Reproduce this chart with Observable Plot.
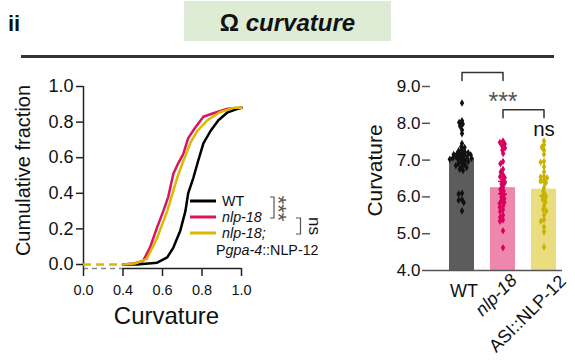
<!DOCTYPE html>
<html><head><meta charset="utf-8">
<script src="https://cdn.jsdelivr.net/npm/d3@7"></script>
<script src="https://cdn.jsdelivr.net/npm/@observablehq/plot@0.6"></script>
<style>
html,body{margin:0;padding:0;background:#fff;}
body{width:575px;height:364px;position:relative;overflow:hidden;font-family:"Liberation Sans",Arial,sans-serif;color:#111;}
.abs{position:absolute;}
svg{overflow:visible;}
</style></head><body>
<div class="abs" style="left:8px;top:11px;font-size:22px;font-weight:bold;line-height:26px;">ii</div>
<div class="abs" style="left:184px;top:1px;width:207px;height:40px;background:#deecd5;"></div>
<div class="abs" style="left:184px;top:3px;width:207px;height:40px;line-height:40px;text-align:center;font-size:24px;font-weight:bold;">Ω <i>curvature</i></div>
<div class="abs" style="left:21px;top:55px;width:533px;height:2.5px;background:#333;"></div>
<div id="left" class="abs" style="left:0;top:60px;"></div>
<div id="rightBars" class="abs" style="left:340px;top:60px;"></div>
<div id="rightAxes" class="abs" style="left:340px;top:60px;"></div>
<svg id="legend" class="abs" style="left:0;top:0;" width="575" height="364"></svg>
<script>
// ---------- data: cumulative distributions (left panel) ----------
const cdfGroups = ["nlp-18", "WT", "nlp-18; Pgpa-4::NLP-12"];
const cdfColors = ["#d8145c", "#000000", "#dcb900"];
const nlpCurv = [0.40, 0.45, 0.502, 0.537, 0.573, 0.604, 0.629, 0.655, 0.68, 0.705, 0.73, 0.766, 0.807, 0.857, 0.93, 1.0];
const nlpFrac = [0, 0.005, 0.02, 0.096, 0.21, 0.30, 0.38, 0.51, 0.57, 0.62, 0.71, 0.77, 0.83, 0.85, 0.875, 0.88];
const wtCurv = [0.40, 0.47, 0.573, 0.624, 0.655, 0.69, 0.716, 0.73, 0.757, 0.78, 0.807, 0.843, 0.883, 0.93, 0.98, 1.0];
const wtFrac = [0, 0, 0.01, 0.04, 0.095, 0.19, 0.30, 0.40, 0.49, 0.58, 0.68, 0.75, 0.81, 0.855, 0.875, 0.88];
const resCurv = [0.40, 0.46, 0.52, 0.573, 0.624, 0.675, 0.705, 0.74, 0.776, 0.827, 0.89, 0.96, 1.0];
const resFrac = [0, 0.005, 0.03, 0.15, 0.30, 0.49, 0.58, 0.68, 0.75, 0.81, 0.855, 0.88, 0.88];
const cdfXTicks = [0, 0.4, 0.6, 0.8, 1.0];
const cdfYTicks = [0, 0.2, 0.4, 0.6, 0.8, 1.0];

// ---------- data: bar chart (right panel) ----------
const barCats = ["WT", "nlp-18", "ASI::NLP-12"];
const barMeans = [7.05, 6.25, 6.21];
const barSems = [0.10, 0.17, 0.18];
const barFills = ["#5c5c5c", "#ef87ad", "#e9dd80"];
const dotFills = ["#111111", "#d8005c", "#c8b300"];
const wtDots = [8.55, 8.07, 8.02, 7.98, 7.92, 7.82, 7.72, 7.45, 7.36, 7.34, 7.27, 7.25, 7.22, 7.2, 7.18, 7.17, 7.15, 7.14, 7.12, 7.1, 7.09, 7.08, 7.06, 7.05, 7.03, 7.02, 7.0, 6.98, 6.96, 6.93, 6.9, 6.88, 6.85, 6.82, 6.8, 6.75, 6.72, 6.1, 6.08, 5.93, 5.91, 5.85, 5.62];
const nlpDots = [7.52, 7.48, 7.44, 7.38, 7.33, 7.27, 7.18, 6.96, 6.9, 6.75, 6.68, 6.6, 6.55, 6.52, 6.45, 6.38, 6.35, 6.26, 6.2, 6.16, 6.1, 6.06, 6.0, 5.95, 5.9, 5.85, 5.82, 5.75, 5.72, 5.65, 5.6, 5.5, 5.45, 5.38, 5.34, 5.08, 4.62];
const asiDots = [7.52, 7.42, 7.35, 7.27, 7.16, 6.96, 6.94, 6.82, 6.68, 6.56, 6.54, 6.52, 6.46, 6.44, 6.38, 6.25, 6.16, 6.08, 6.02, 5.98, 5.92, 5.86, 5.75, 5.66, 5.62, 5.5, 5.38, 5.34, 5.18, 5.05, 4.64];
const barYTicks = [4, 5, 6, 7, 8, 9];

const FONT = "Liberation Sans, Arial, sans-serif";

// ---------- left panel ----------
const cdf = [];
[[nlpCurv, nlpFrac], [wtCurv, wtFrac], [resCurv, resFrac]].forEach(([xs, ys], g) =>
  xs.forEach((x, i) => cdf.push({group: cdfGroups[g], curvature: x, fraction: ys[i]})));
const axisBase = -0.0225; // x-axis drawn just below y = 0
// broken axis: 0–0.4 compressed to the width of one 0.2 interval
const breakAxis = v => v <= 0.4 ? v / 2 : v - 0.2;
const unbreakAxis = t => t <= 0.2 ? t * 2 : t + 0.2;
const fmt1 = d3.format(".1f");
const left = Plot.plot({
  width: 340, height: 290,
  marginLeft: 83, marginRight: 99, marginTop: 26, marginBottom: 86,
  style: {fontFamily: FONT, background: "transparent", color: "#111", overflow: "visible"},
  x: {transform: breakAxis, domain: [0, 0.8], axis: null},
  y: {domain: [0, 1], axis: null},
  color: {domain: cdfGroups, range: cdfColors},
  marks: [
    Plot.ruleX([0], {y1: axisBase, y2: 1, stroke: "#222", strokeWidth: 1.5}),
    Plot.ruleY([axisBase], {x1: 0, x2: 0.4, stroke: "#888", strokeWidth: 1.5, strokeDasharray: "5,4"}),
    Plot.ruleY([axisBase], {x1: 0.4, x2: 1, stroke: "#222", strokeWidth: 1.5}),
    Plot.axisY({ticks: cdfYTicks, tickFormat: ".1f", tickSize: 7, tickPadding: 3, fontSize: 18, label: null, stroke: "#222", strokeWidth: 1.5}),
    Plot.axisX({ticks: cdfXTicks.map(breakAxis), tickFormat: t => fmt1(unbreakAxis(t)), tickSize: 8, tickPadding: 8, fontSize: 14.5, label: null, dy: 4, stroke: "#222", strokeWidth: 1.5}),
    Plot.ruleY([0], {x1: 0, x2: 0.4, stroke: cdfColors[2], strokeWidth: 2.5, strokeDasharray: "8,5"}),
    Plot.line(cdf, {x: "curvature", y: "fraction", z: "group", stroke: "group", strokeWidth: 2.5}),
    Plot.text(["Cumulative fraction"], {frameAnchor: "left", textAnchor: "middle", lineAnchor: "middle", dx: -60, dy: -5, rotate: -90, fontSize: 20}),
    Plot.text(["Curvature"], {frameAnchor: "bottom", textAnchor: "middle", lineAnchor: "middle", dx: 4, dy: 52, fontSize: 24})
  ]
});
document.getElementById("left").append(left);

// ---------- right panel ----------
const stats = barCats.map((c, i) => ({group: c, mean: barMeans[i], lo: barMeans[i] - barSems[i], hi: barMeans[i] + barSems[i], fill: barFills[i], dot: dotFills[i]}));
const points = [];
[wtDots, nlpDots, asiDots].forEach((vals, i) => vals.forEach(v => points.push({group: barCats[i], value: v, dot: dotFills[i]})));
const band = {domain: barCats, paddingInner: 0.4, paddingOuter: 0.29, align: 0.73};
const common = {width: 235, height: 304, marginLeft: 90, marginRight: 13, marginTop: 26, marginBottom: 94,
  style: {fontFamily: FONT, background: "transparent", color: "#111", overflow: "visible"}};

const barsPlot = Plot.plot({
  ...common,
  fx: {...band, axis: null},
  y: {domain: [4, 9], axis: null},
  marks: [
    Plot.barY(stats, {fx: "group", y1: 4, y2: "mean", fill: "fill"}),
    Plot.ruleX(stats, {fx: "group", x: null, y1: "lo", y2: "hi", stroke: "dot", strokeWidth: 1.5}),
    Plot.tickY(stats, {fx: "group", y: "lo", stroke: "dot", strokeWidth: 1.5, insetLeft: 8, insetRight: 8}),
    Plot.tickY(stats, {fx: "group", y: "hi", stroke: "dot", strokeWidth: 1.5, insetLeft: 8, insetRight: 8}),
    Plot.dot(points, Plot.dodgeX({anchor: "middle", padding: -1.2}, {fx: "group", y: "value", r: 2.3, symbol: "diamond", fill: "dot"}))
  ]
});
document.getElementById("rightBars").append(barsPlot);

const axesPlot = Plot.plot({
  ...common,
  x: {...band, type: "band", axis: null},
  y: {domain: [4, 9], axis: null},
  marks: [
    Plot.axisY({ticks: barYTicks, tickFormat: ".1f", tickSize: 8, tickPadding: 2, fontSize: 17, label: null, line: true, stroke: "#555", strokeWidth: 1.5}),
    Plot.ruleY([4], {stroke: "#555", strokeWidth: 1.5}),
    Plot.text(["Curvature"], {frameAnchor: "left", textAnchor: "middle", lineAnchor: "middle", dx: -55, dy: -8, rotate: -90, fontSize: 21}),
    Plot.text(barCats.slice(0, 1), {x: d => d, frameAnchor: "bottom", lineAnchor: "middle", dx: 2, dy: 21, fontSize: 18}),
    Plot.text(barCats.slice(1, 2), {x: d => d, frameAnchor: "bottom", dx: 15, dy: 11, rotate: -45, textAnchor: "end", fontSize: 18, fontStyle: "italic"}),
    Plot.text(barCats.slice(2, 3), {x: d => d, frameAnchor: "bottom", dx: 23, dy: 12, rotate: -45, textAnchor: "end", fontSize: 18}),
    Plot.line([{x: barCats[0], y: 9.16}, {x: barCats[0], y: 9.38}, {x: barCats[1], y: 9.38}, {x: barCats[1], y: 9.16}], {x: "x", y: "y", stroke: "#333", strokeWidth: 1.5}),
    Plot.line([{x: barCats[1], y: 8.15}, {x: barCats[1], y: 8.37}, {x: barCats[2], y: 8.37}, {x: barCats[2], y: 8.15}], {x: "x", y: "y", stroke: "#333", strokeWidth: 1.5}),
    Plot.text([{x: barCats[1], y: 8.58}], {x: "x", y: "y", text: () => "***", fontSize: 25, fill: "#555"}),
    Plot.text([{x: barCats[2], y: 7.84}], {x: "x", y: "y", text: () => "ns", fontSize: 20.5, fill: "#111"})
  ]
});
document.getElementById("rightAxes").append(axesPlot);

// ---------- legend of left panel ----------
const legendItems = [
  {label: "WT", italic: false},
  {label: "nlp-18", italic: true},
  {label: "nlp-18;", italic: true}
];
const legendColors = [cdfColors[1], cdfColors[0], cdfColors[2]];
const svg = d3.select("#legend").style("font-family", FONT);
const rowY = [201, 217, 233];
legendItems.forEach((it, i) => {
  svg.append("line").attr("x1", 190).attr("x2", 216).attr("y1", rowY[i]).attr("y2", rowY[i])
    .attr("stroke", legendColors[i]).attr("stroke-width", 3);
  svg.append("text").attr("x", 222).attr("y", rowY[i] + 5.3).attr("font-size", 14.3)
    .attr("font-style", it.italic ? "italic" : "normal").attr("fill", "#111").text(it.label);
});
const t4 = svg.append("text").attr("x", 216).attr("y", 254.5).attr("font-size", 14.3).attr("fill", "#111");
t4.append("tspan").text("P");
t4.append("tspan").attr("font-style", "italic").text("gpa-4");
t4.append("tspan").text("::NLP-12");
svg.append("path").attr("d", "M270,197 H274 V218 H270").attr("fill", "none").attr("stroke", "#555").attr("stroke-width", 1.2);
svg.append("path").attr("d", "M296,218 H300.5 V234 H296").attr("fill", "none").attr("stroke", "#555").attr("stroke-width", 1.2);
svg.append("text").attr("transform", "translate(271,208.5) rotate(90)").attr("text-anchor", "middle")
  .attr("font-size", 22).attr("fill", "#555").text("***");
svg.append("text").attr("transform", "translate(309,226) rotate(90)").attr("text-anchor", "middle")
  .attr("font-size", 17).attr("fill", "#111").text("ns");
</script>
</body></html>
